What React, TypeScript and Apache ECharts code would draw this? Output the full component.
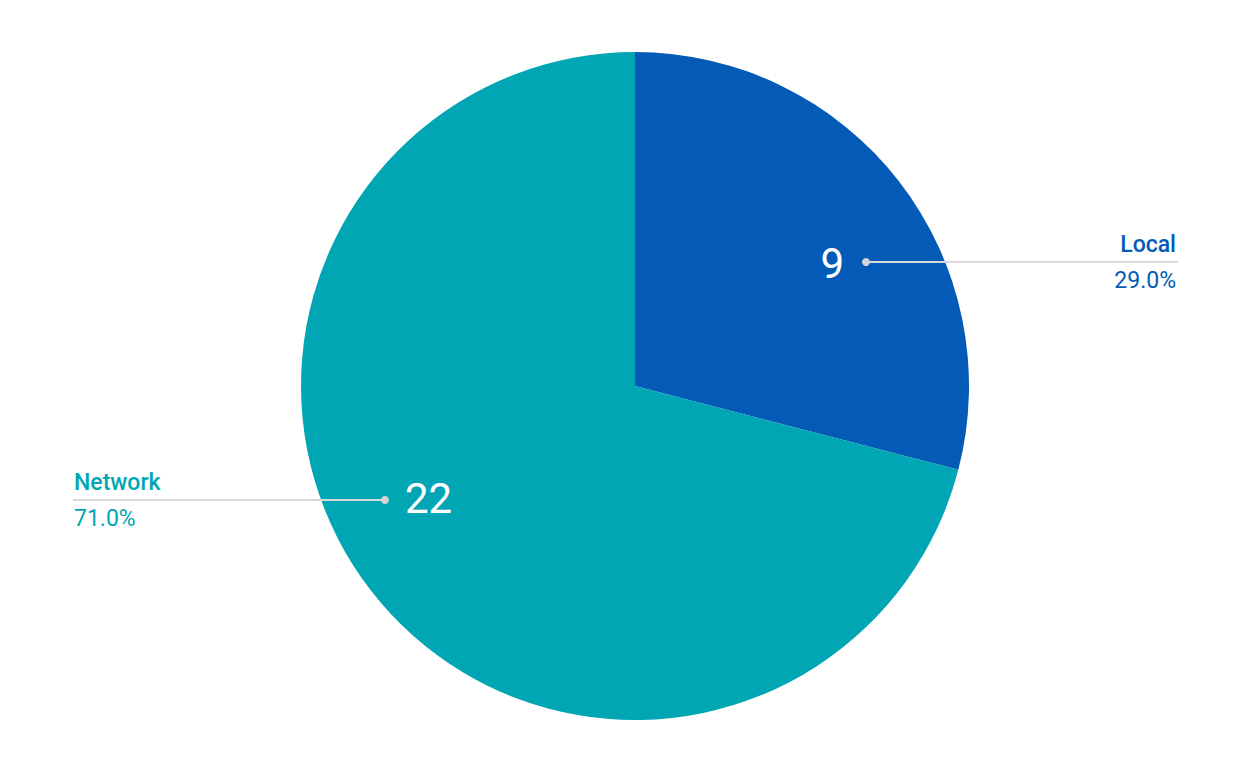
import React, { useEffect, useRef } from "react";
import * as echarts from "echarts";

// Slice data
const categories = ["Local", "Network"];
const values = [9, 22];
const colors = ["#035BB7", "#00A6B4"];

// Callout placement for each slice: dot position, line end and label side
const callouts = [
  { dotX: 866, dotY: 262, endX: 1178, side: "right" },
  { dotX: 385, dotY: 500, endX: 73, side: "left" },
];

const FONT = "Roboto, 'Noto Sans', sans-serif";

export default function App() {
  const ref = useRef<HTMLDivElement>(null);

  useEffect(() => {
    if (!ref.current) return;
    const chart = echarts.init(ref.current, undefined, { renderer: "svg" });
    const total = values.reduce((a, b) => a + b, 0);

    const graphics: any[] = [];
    categories.forEach((name, i) => {
      const c = callouts[i];
      const pct = ((values[i] / total) * 100).toFixed(1) + "%";
      const right = c.side === "right";
      graphics.push({
        type: "line",
        silent: true,
        z: 10,
        shape: { x1: c.dotX, y1: c.dotY, x2: c.endX, y2: c.dotY },
        style: { stroke: "#D9D9D9", lineWidth: 2 },
      });
      graphics.push({
        type: "circle",
        silent: true,
        z: 11,
        shape: { cx: c.dotX, cy: c.dotY, r: 4 },
        style: { fill: "#D4D4D4" },
      });
      graphics.push({
        type: "text",
        silent: true,
        z: 11,
        x: right ? c.endX - 2 : c.endX + 1,
        y: c.dotY - 18,
        style: {
          text: name,
          fill: colors[i],
          font: `500 23px ${FONT}`,
          align: right ? "right" : "left",
          verticalAlign: "middle",
        },
      });
      graphics.push({
        type: "text",
        silent: true,
        z: 11,
        x: right ? c.endX - 2 : c.endX + 1,
        y: c.dotY + 18,
        style: {
          text: pct,
          fill: colors[i],
          font: `400 23px ${FONT}`,
          align: right ? "right" : "left",
          verticalAlign: "middle",
        },
      });
      graphics.push({
        type: "text",
        silent: true,
        z: 11,
        x: right ? c.dotX - 22 : c.dotX + 20,
        y: right ? c.dotY + 1 : c.dotY - 2,
        style: {
          text: String(values[i]),
          fill: "#FFFFFF",
          font: `400 42px ${FONT}`,
          align: right ? "right" : "left",
          verticalAlign: "middle",
        },
      });
    });

    chart.setOption({
      animation: false,
      backgroundColor: "#FFFFFF",
      series: [
        {
          type: "pie",
          center: [635, 386],
          radius: [0, 334],
          startAngle: 90,
          clockwise: true,
          silent: true,
          label: { show: false },
          labelLine: { show: false },
          itemStyle: { borderWidth: 0 },
          data: categories.map((name, i) => ({
            name,
            value: values[i],
            itemStyle: { color: colors[i] },
          })),
        },
      ],
      graphic: graphics,
    });

    return () => chart.dispose();
  }, []);

  return (
    <div
      ref={ref}
      style={{ position: "fixed", left: 0, top: 0, width: 1251, height: 773 }}
    />
  );
}
